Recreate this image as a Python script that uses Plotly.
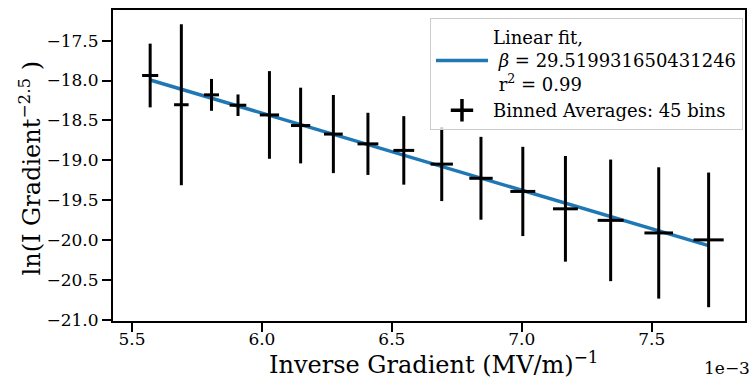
import plotly.graph_objects as go

# Binned averages (x in units of 1e-3 (MV/m)^-1)
bin_x = [5.570, 5.690, 5.806, 5.908, 6.029, 6.149, 6.275, 6.408, 6.546, 6.692,
         6.843, 7.004, 7.168, 7.342, 7.527, 7.719]
bin_y = [-17.937, -18.304, -18.180, -18.310, -18.432, -18.565, -18.672, -18.795,
         -18.877, -19.049, -19.227, -19.392, -19.610, -19.755, -19.913, -20.000]
bin_yerr = [0.40, 1.01, 0.20, 0.135, 0.55, 0.475, 0.49, 0.39, 0.43, 0.464,
            0.52, 0.56, 0.663, 0.763, 0.824, 0.845]
bin_xerr = [0.031, 0.028, 0.029, 0.032, 0.037, 0.037, 0.036, 0.040, 0.040, 0.043,
            0.045, 0.048, 0.048, 0.050, 0.055, 0.058]

# Linear fit endpoints
fit_x = [5.570, 7.719]
fit_y = [-17.993, -20.072]

y_ticks = [-21.0, -20.5, -20.0, -19.5, -19.0, -18.5, -18.0, -17.5]
x_ticks = [5.5, 6.0, 6.5, 7.0, 7.5]

FONT = "DejaVu Serif"

fig = go.Figure()

fig.add_trace(go.Scatter(
    x=fit_x, y=fit_y, mode="lines",
    line=dict(color="#1f77b4", width=3.5),
    name="Linear fit,<br> <i>β</i> = 29.519931650431246<br> r<sup>2</sup> = 0.99",
))

fig.add_trace(go.Scatter(
    x=bin_x, y=bin_y, mode="markers",
    marker=dict(size=1, color="rgba(0,0,0,0)"),
    error_y=dict(type="data", array=bin_yerr, color="black", thickness=3, width=0),
    error_x=dict(type="data", array=bin_xerr, color="black", thickness=3, width=0),
    showlegend=False,
))

fig.add_trace(go.Scatter(
    x=[None], y=[None], mode="markers",
    marker=dict(symbol="cross-thin", size=18, color="black",
                line=dict(color="black", width=3.5)),
    name="Binned Averages: 45 bins",
))

fig.update_layout(
    width=754, height=378,
    margin=dict(l=113, r=9, t=10, b=57, autoexpand=False),
    paper_bgcolor="white", plot_bgcolor="white",
    font=dict(family=FONT, size=17, color="black"),
    showlegend=True,
    legend=dict(
        x=0.9968, y=0.975, xanchor="right", yanchor="top",
        bgcolor="rgba(255,255,255,0.8)", bordercolor="#cccccc", borderwidth=1,
        font=dict(family=FONT, size=18, color="black"),
        tracegroupgap=0, itemwidth=52,
    ),
    xaxis=dict(
        range=[5.427, 7.859], tickvals=x_ticks, ticktext=[f"{v:.1f}" for v in x_ticks],
        showgrid=False, zeroline=False, automargin=False,
        showline=True, linecolor="black", linewidth=2, mirror=True,
        ticks="outside", ticklen=9, tickwidth=2, tickcolor="black",
        tickfont=dict(size=17), ticklabelstandoff=-7,
    ),
    yaxis=dict(
        range=[-21.018, -17.115], tickvals=y_ticks,
        ticktext=[f"{v:.1f}".replace("-", "−") for v in y_ticks],
        showgrid=False, zeroline=False, automargin=False,
        showline=True, linecolor="black", linewidth=2, mirror=True,
        ticks="outside", ticklen=9, tickwidth=2, tickcolor="black",
        tickfont=dict(size=17),
    ),
    annotations=[
        dict(text="1e−3", xref="paper", yref="paper", x=1, y=0,
             xanchor="right", yanchor="middle", xshift=7, yshift=-47,
             showarrow=False, font=dict(family=FONT, size=17, color="black")),
        dict(text="Inverse Gradient (MV/m)<sup>−1</sup>", xref="paper", yref="paper",
             x=0.5, y=0, xanchor="center", yanchor="middle", xshift=4, yshift=-42,
             showarrow=False, font=dict(family=FONT, size=24, color="black")),
        dict(text="ln(I Gradient<sup>−2.5</sup> )", xref="paper", yref="paper",
             x=0, y=0.5, xanchor="center", yanchor="middle", xshift=-84, yshift=-3,
             textangle=-90,
             showarrow=False, font=dict(family=FONT, size=24, color="black")),
    ],
)

fig.write_html("out.html")
